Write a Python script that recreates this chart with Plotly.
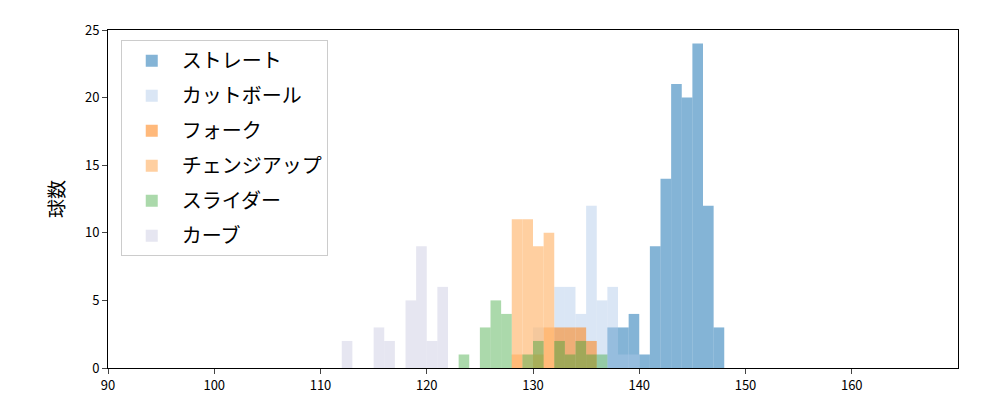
import plotly.graph_objs as go

# bins are 1 km/h wide, key = left edge
straight = {137: 3, 138: 3, 139: 4, 140: 1, 141: 9, 142: 14, 143: 21, 144: 20, 145: 24, 146: 12, 147: 3}
cutball = {130: 3, 132: 6, 133: 6, 134: 4, 135: 12, 136: 5, 137: 6, 138: 1, 139: 1}
fork = {128: 1, 130: 1, 131: 3, 132: 3, 133: 3, 134: 3, 135: 2}
changeup = {128: 11, 129: 11, 130: 9, 131: 10}
slider = {123: 1, 125: 3, 126: 5, 127: 4, 129: 1, 130: 2, 132: 2, 133: 1, 134: 2, 135: 1, 136: 1}
curve = {112: 2, 115: 3, 116: 2, 118: 5, 119: 9, 120: 2, 121: 6}

series = [
    ("ストレート", straight, "rgba(31,119,180,0.55)"),
    ("カットボール", cutball, "rgba(174,199,232,0.45)"),
    ("フォーク", fork, "rgba(255,127,14,0.55)"),
    ("チェンジアップ", changeup, "rgba(255,187,120,0.7)"),
    ("スライダー", slider, "rgba(44,160,44,0.4)"),
    ("カーブ", curve, "rgba(200,200,225,0.45)"),
]

fig = go.Figure()
for name, counts, color in series:
    fig.add_trace(go.Bar(
        x=[k + 0.5 for k in counts],
        y=list(counts.values()),
        width=1,
        name=name,
        legendgroup=name,
        marker=dict(color=color, line=dict(width=0)),
    ))

fig.update_layout(
    barmode="overlay",
    width=1000, height=400,
    margin=dict(l=100, r=50, t=22, b=40, autoexpand=False),
    paper_bgcolor="white", plot_bgcolor="white",
    font=dict(family="Noto Sans CJK JP", size=13, color="black"),
    legend=dict(x=0.015, y=0.97, xanchor="left", yanchor="top",
                bordercolor="#cccccc", borderwidth=1, font=dict(size=20),
                tracegroupgap=6, itemwidth=50,
                bgcolor="rgba(255,255,255,0.8)"),
    xaxis=dict(range=[90, 170], tickvals=list(range(90, 170, 10)), showgrid=False,
               showline=True, linecolor="black", mirror=True, ticks="outside", zeroline=False),
    yaxis=dict(range=[0, 25], tickvals=list(range(0, 26, 5)), showgrid=False, automargin=False,
               showline=True, linecolor="black", mirror=True, ticks="outside", zeroline=False,
               title=dict(text="球数", font=dict(size=19), standoff=15)),
)

fig.write_html("out.html")
